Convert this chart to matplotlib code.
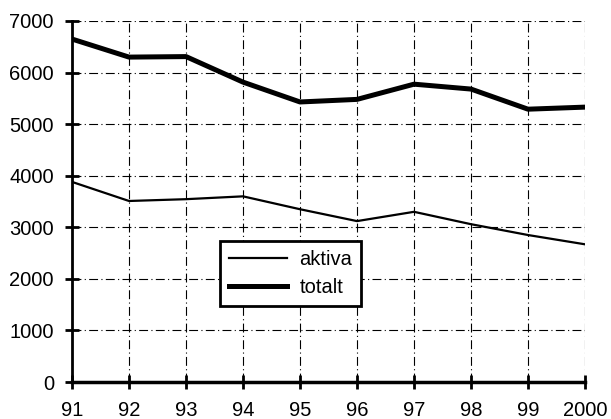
import matplotlib.pyplot as plt

plt.rcParams['font.family'] = ['Liberation Sans', 'DejaVu Sans']

# data
years = ['91', '92', '93', '94', '95', '96', '97', '98', '99', '2000']
aktiva = [3880, 3510, 3545, 3600, 3350, 3120, 3300, 3060, 2850, 2670]
totalt = [6650, 6300, 6310, 5815, 5430, 5480, 5775, 5680, 5290, 5330]

fig = plt.figure(figsize=(6.11, 4.19), dpi=100)
ax = fig.add_axes([72 / 611, 1 - 382 / 419, 513 / 611, 361 / 419])

x = list(range(len(years)))
ax.plot(x, aktiva, color='black', linewidth=1.6, label='aktiva')
ax.plot(x, totalt, color='black', linewidth=3.6, label='totalt')

ax.set_xlim(0, len(years) - 1)
ax.set_ylim(0, 7000)
ax.set_xticks(x)
ax.set_xticklabels(years)
ax.set_yticks(range(0, 7001, 1000))

ax.grid(True, color='black', linestyle=(0, (8, 3, 1, 3)), linewidth=0.8)
ax.spines['top'].set_visible(False)
ax.spines['right'].set_visible(False)
ax.spines['left'].set_linewidth(2)
ax.spines['bottom'].set_linewidth(2.5)
ax.tick_params(axis='both', direction='inout', length=10, width=2,
               labelsize=14.5, colors='black')
ax.tick_params(axis='x', pad=9)
ax.tick_params(axis='y', pad=8)

leg = ax.legend(loc='lower left', bbox_to_anchor=(148 / 513, 76 / 361),
                borderaxespad=0, fontsize=14.5, frameon=True, fancybox=False,
                framealpha=1, handlelength=2.9, borderpad=0.45,
                labelspacing=0.45, handletextpad=0.6)
leg.get_frame().set_edgecolor('black')
leg.get_frame().set_linewidth(2)

fig.savefig('out.png', dpi=100)
